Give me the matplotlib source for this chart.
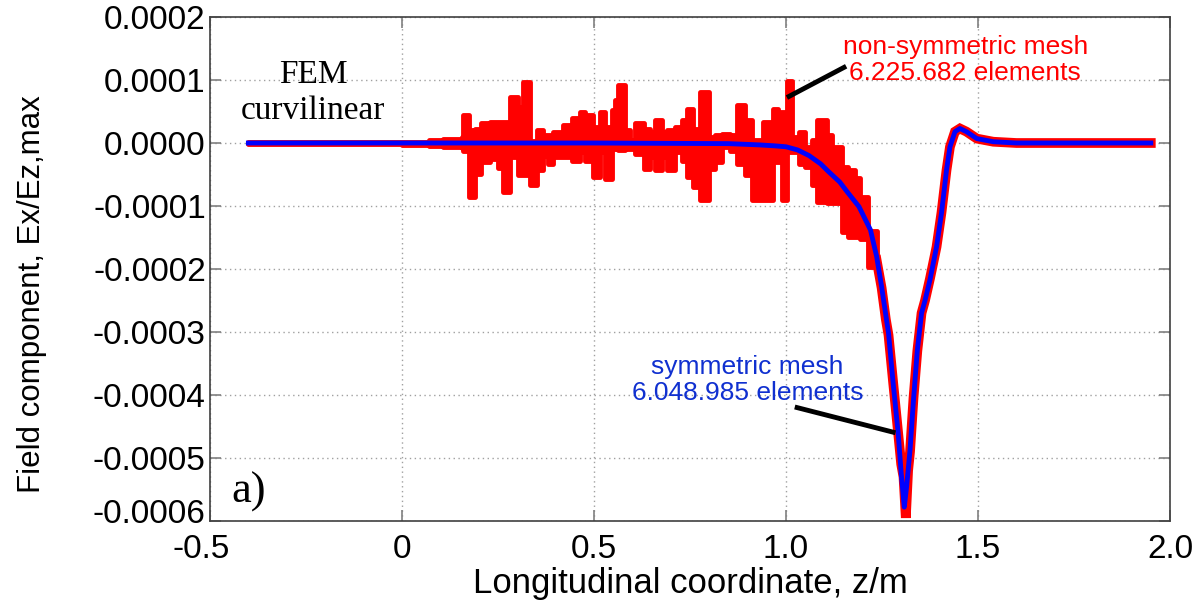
import matplotlib
matplotlib.use("Agg")
import matplotlib.pyplot as plt
from matplotlib.transforms import ScaledTranslation

# field values are in units of 1e-4 (tick labels carry the real numbers)
# noisy part of the non-symmetric mesh result: step edges, upper and lower envelope
red_z = [-0.40, 0.00, 0.07, 0.108, 0.155, 0.160, 0.174, 0.190, 0.207, 0.229, 0.250, 0.264,
         0.281, 0.303, 0.316, 0.333, 0.351, 0.368, 0.381, 0.394, 0.420, 0.442, 0.464, 0.477,
         0.498, 0.516, 0.529, 0.546, 0.555, 0.563, 0.581, 0.594, 0.607, 0.629, 0.646, 0.659,
         0.677, 0.690, 0.711, 0.729, 0.742, 0.759, 0.777, 0.799, 0.816, 0.833, 0.855, 0.872,
         0.894, 0.911, 0.940, 0.967, 0.980, 0.989, 1.002, 1.015, 1.033, 1.050, 1.068, 1.081,
         1.107, 1.120, 1.145, 1.162, 1.180, 1.193, 1.214, 1.236]
red_hi = [0.02, 0.02, 0.04, 0.07, 0.10, 0.44, 0.20, 0.23, 0.31, 0.33, 0.33, 0.33,
          0.73, 0.57, 0.97, 0.03, 0.20, 0.12, 0.12, 0.17, 0.28, 0.39, 0.49, 0.44,
          0.25, 0.49, 0.25, 0.52, 0.68, 0.92, 0.20, 0.04, 0.31, 0.23, 0.17, 0.36,
          0.17, 0.20, 0.25, 0.36, 0.54, 0.23, 0.81, 0.10, 0.12, 0.15, 0.12, 0.60,
          0.36, 0.04, 0.33, 0.54, 0.49, 0.49, 0.99, 0.10, 0.18, -0.06, 0.05, 0.36,
          0.12, -0.06, -0.38, -0.43, -0.56, -0.86, -1.39, -1.80]
red_lo = [-0.02, -0.03, -0.04, -0.06, -0.08, -0.12, -0.86, -0.49, -0.30, -0.25, -0.40, -0.77,
          -0.22, -0.51, -0.51, -0.66, -0.43, -0.20, -0.33, -0.22, -0.22, -0.28, -0.15, -0.28,
          -0.54, -0.15, -0.57, -0.10, -0.10, -0.11, -0.09, -0.09, -0.17, -0.41, -0.22, -0.43,
          -0.22, -0.43, -0.14, -0.28, -0.54, -0.70, -0.91, -0.41, -0.30, -0.06, -0.12, -0.33,
          -0.51, -0.91, -0.91, -0.30, -0.30, -0.91, -0.15, -0.14, -0.33, -0.38, -0.67, -0.93,
          -0.95, -0.95, -1.41, -1.49, -1.49, -1.52, -1.97, -1.95]

# non-symmetric mesh through the dip and the tail
red_tail_z = [1.236, 1.249, 1.260, 1.267, 1.279, 1.292, 1.300, 1.306, 1.312, 1.318, 1.323,
              1.332, 1.342, 1.353, 1.362, 1.375, 1.392, 1.405, 1.418, 1.427, 1.440, 1.453,
              1.470, 1.497, 1.540, 1.600, 1.950]
red_tail_v = [-1.86, -2.30, -2.80, -3.05, -3.80, -4.60, -5.10, -5.30, -5.95, -5.20, -4.90,
              -4.05, -3.30, -2.70, -2.50, -2.15, -1.65, -1.10, -0.43, -0.06, 0.18, 0.23,
              0.18, 0.07, 0.02, 0.00, 0.00]

# symmetric mesh (smooth)
blue_z = [-0.40, 0.50, 0.85, 0.93, 0.97, 1.00, 1.03, 1.06, 1.09, 1.11, 1.14, 1.16, 1.19,
          1.22, 1.236, 1.249, 1.254, 1.267, 1.279, 1.292, 1.300, 1.308, 1.314, 1.323, 1.332,
          1.342, 1.353, 1.362, 1.375, 1.392, 1.405, 1.418, 1.427, 1.440, 1.453, 1.470, 1.497,
          1.540, 1.600, 1.950]
blue_v = [0.00, 0.00, -0.01, -0.03, -0.045, -0.06, -0.11, -0.20, -0.33, -0.45, -0.62, -0.78,
          -1.01, -1.38, -1.80, -2.28, -2.49, -3.02, -3.81, -4.60, -5.24, -5.78, -5.46, -4.87,
          -4.08, -3.29, -2.70, -2.50, -2.17, -1.65, -1.11, -0.43, -0.06, 0.18, 0.23, 0.18,
          0.07, 0.02, 0.00, 0.00]

x_ticks = [-0.5, 0.0, 0.5, 1.0, 1.5, 2.0]
x_labels = ["-0.5", "0", "0.5", "1.0", "1.5", "2.0"]
y_ticks = [2, 1, 0, -1, -2, -3, -4, -5, -6]
y_labels = ["0.0002", "0.0001", "0.0000", "-0.0001", "-0.0002", "-0.0003",
            "-0.0004", "-0.0005", "-0.0006"]

plt.rcParams["font.family"] = ["Liberation Sans", "DejaVu Sans"]

fig = plt.figure(figsize=(11.97, 6.01), dpi=100)
ax = fig.add_axes([210 / 1197, 1 - 521 / 601, 960 / 1197, 504 / 601])

# red: noisy envelope + dip line
ax.fill_between(red_z, red_lo, red_hi, step="post", color="red", lw=3.5, zorder=3)
ax.plot(red_tail_z, red_tail_v, color="red", lw=7, zorder=3, solid_joinstyle="miter")
# blue
ax.plot(blue_z, blue_v, color="#0000ff", lw=3.5, zorder=4)

ax.set_xlim(-0.5, 2.0)
ax.set_ylim(-6, 2)
ax.set_xticks(x_ticks)
ax.set_xticklabels(x_labels)
ax.set_yticks(y_ticks)
ax.set_yticklabels(y_labels)
ax.tick_params(direction="in", length=8, width=1.2, color="#808080", labelsize=24,
               top=True, right=True)
ax.tick_params(axis="x", pad=9)
ax.tick_params(axis="y", pad=3)
ax.grid(True, linestyle=(0, (1, 2.5)), color="#a0a0a0", lw=1)
for s in ax.spines.values():
    s.set_color("#404040")
    s.set_linewidth(1.2)

# matlab-like nudges of the corner tick labels
xl = ax.get_xticklabels()[0]
xl.set_transform(xl.get_transform() + ScaledTranslation(-9 / 100, 0, fig.dpi_scale_trans))
yl = ax.get_yticklabels()[-1]
yl.set_transform(yl.get_transform() + ScaledTranslation(0, 10 / 100, fig.dpi_scale_trans))

ax.set_xlabel("Longitudinal coordinate, z/m", fontsize=25, labelpad=2)
ax.set_ylabel("Field component, Ex/Ez,max", fontsize=22.5)
ax.yaxis.set_label_coords(-0.17, 0.45)

# annotations
ax.text(-0.232, 0.80, "FEM\ncurvilinear", fontsize=24, family="Liberation Serif",
        ha="center", va="center", linespacing=1.25)
ax.text(-0.398, -5.53, "a)", fontsize=32, family="Liberation Serif", ha="center", va="center")
ax.text(1.467, 1.32, "non-symmetric mesh\n6.225.682 elements", fontsize=19, color="red",
        ha="center", va="center", linespacing=1.1)
ax.plot([1.151, 1.008], [1.20, 0.74], color="black", lw=3.5, zorder=5)
ax.text(0.90, -3.76, "symmetric mesh\n6.048.985 elements", fontsize=19, color="#1030d0",
        ha="center", va="center", linespacing=1.1)
ax.plot([1.029, 1.279], [-4.20, -4.59], color="black", lw=3.5, zorder=5)

fig.savefig("out.png", dpi=100)
